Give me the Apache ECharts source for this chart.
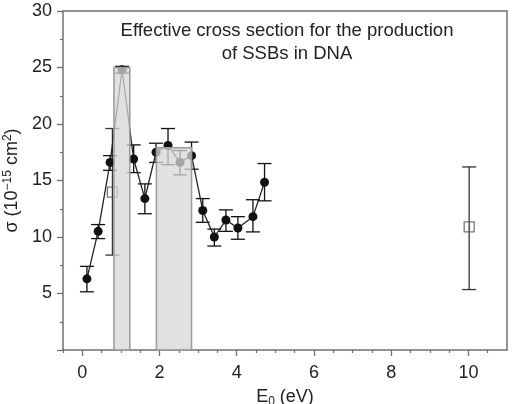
<!DOCTYPE html>
<html><head><meta charset="utf-8">
<script src="https://cdn.jsdelivr.net/npm/echarts@6/dist/echarts.min.js"></script>
<style>html,body{margin:0;padding:0;background:#fff}#c{width:513px;height:404px}</style>
</head><body><div id="c"></div>
<script>
// Black points (connected by a line)
const energies = [0.12, 0.41, 0.72, 1.03, 1.33, 1.62, 1.91, 2.22, 2.53, 2.83, 3.12, 3.42, 3.72, 4.03, 4.42, 4.72];
const sigma    = [6.3, 10.5, 16.6, 24.8, 16.9, 13.4, 17.5, 18.1, 16.6, 17.2, 12.35, 10.0, 11.5, 10.8, 11.8, 14.85];
const errHigh  = [7.4, 11.1, 17.2, 25.1, 18.15, 14.7, 18.3, 19.6, 17.65, 18.4, 13.4, 10.7, 12.4, 11.8, 13.3, 16.5];
const errLow   = [5.15, 9.86, 15.9, 24.5, 15.7, 12.06, 16.6, 16.4, 15.5, 16.0, 11.3, 9.2, 10.5, 9.8, 10.45, 13.2];
// Open squares
const sqEnergies = [0.78, 10.02];
const sqSigma    = [13.97, 10.9];
const sqHigh     = [19.6, 16.2];
const sqLow      = [8.4, 5.35];
// Shaded bars: [start, end, height]
const barStart  = [0.82, 1.92];
const barEnd    = [1.23, 2.83];
const barHeight = [25.0, 17.9];
// Axis ticks
const xMajorTicks = [0, 2, 4, 6, 8, 10];
const xMinorTicks = [-0.5, 0.5, 1, 1.5, 2.5, 3, 3.5, 4.5, 5, 5.5, 6.5, 7, 7.5, 8.5, 9, 9.5, 10.5];
const yTicks = [0, 5, 10, 15, 20, 25, 30];

const FONT = 'Liberation Sans, Arial, sans-serif';
const AX = '#707070';

function errRender(color) {
  return function (params, api) {
    const x = api.value(0), lo = api.value(1), hi = api.value(2);
    const a = api.coord([x, lo]), b = api.coord([x, hi]);
    const w = 7;
    const st = { stroke: color, lineWidth: 1.3 };
    return { type: 'group', children: [
      { type: 'line', shape: { x1: a[0], y1: a[1], x2: b[0], y2: b[1] }, style: st },
      { type: 'line', shape: { x1: a[0] - w, y1: a[1], x2: a[0] + w, y2: a[1] }, style: st },
      { type: 'line', shape: { x1: b[0] - w, y1: b[1], x2: b[0] + w, y2: b[1] }, style: st }
    ]};
  };
}

const chart = echarts.init(document.getElementById('c'), null, { renderer: 'canvas' });
chart.setOption({
  animation: false,
  backgroundColor: '#fff',
  grid: { left: 63, right: 6, top: 11, bottom: 54, containLabel: false, outerBoundsMode: 'none' },
  graphic: [
    { type: 'text', x: 287, y: 31, style: { text: 'Effective cross section for the production', textAlign: 'center', textVerticalAlign: 'middle', font: '18.5px ' + FONT, fill: '#222' } },
    { type: 'text', x: 287, y: 54, style: { text: 'of SSBs in DNA', textAlign: 'center', textVerticalAlign: 'middle', font: '18.5px ' + FONT, fill: '#222' } }
  ],
  xAxis: [
    { type: 'value', min: -0.5, max: 11, position: 'bottom',
      axisLine: { show: true, onZero: false, lineStyle: { color: AX, width: 1.5 } },
      axisTick: { show: true, inside: false, length: 6, customValues: xMajorTicks, lineStyle: { color: AX, width: 1.3 } },
      axisLabel: { customValues: xMajorTicks, margin: 14, fontSize: 18, color: '#222', fontFamily: FONT },
      splitLine: { show: false },
      name: 'E{sub|0} (eV)', nameLocation: 'middle', nameGap: 36,
      nameTextStyle: { fontSize: 18, color: '#222', fontFamily: FONT, rich: { sub: { fontSize: 12, verticalAlign: 'bottom', padding: [10, 0, 0, 0], fontFamily: FONT, color: '#222' } } } },
    { type: 'value', min: -0.5, max: 11, position: 'bottom',
      axisLine: { show: false, onZero: false },
      axisTick: { show: true, length: 3, customValues: xMinorTicks, lineStyle: { color: AX, width: 1.2 } },
      axisLabel: { show: false }, splitLine: { show: false } },
    { type: 'value', min: -0.5, max: 11, position: 'top',
      axisLine: { show: true, onZero: false, lineStyle: { color: AX, width: 1.5 } },
      axisTick: { show: false }, axisLabel: { show: false }, splitLine: { show: false } }
  ],
  yAxis: [
    { type: 'value', min: 0, max: 30, interval: 5, position: 'left',
      axisLine: { show: true, onZero: false, lineStyle: { color: AX, width: 1.5 } },
      axisTick: { show: true, length: 6, lineStyle: { color: AX, width: 1.3 } },
      minorTick: { show: true, splitNumber: 2, length: 3, lineStyle: { color: AX, width: 1.2 } },
      axisLabel: { margin: 11, fontSize: 18, color: '#222', fontFamily: FONT, formatter: v => v === 0 ? '' : String(v) },
      splitLine: { show: false },
      name: 'σ (10{sup|−15} cm{sup|2})', nameLocation: 'middle', nameGap: 35, nameRotate: 90,
      nameTextStyle: { fontSize: 18, color: '#222', fontFamily: FONT, rich: { sup: { fontSize: 12, verticalAlign: 'top', padding: [0, 0, 8, 0], fontFamily: FONT, color: '#222' } } } },
    { type: 'value', min: 0, max: 30, position: 'right',
      axisLine: { show: true, onZero: false, lineStyle: { color: AX, width: 1.5 } },
      axisTick: { show: false }, axisLabel: { show: false }, splitLine: { show: false } }
  ],
  series: [
    { type: 'custom', name: 'err', renderItem: errRender('#111'), z: 2,
      data: energies.map((x, i) => [x, errLow[i], errHigh[i]]) },
    { type: 'custom', name: 'sqerr', renderItem: errRender('#333'), z: 2,
      data: sqEnergies.map((x, i) => [x, sqLow[i], sqHigh[i]]) },
    { type: 'line', name: 'sigma', z: 3, data: energies.map((x, i) => [x, sigma[i]]),
      symbol: 'circle', symbolSize: 9, showSymbol: true,
      lineStyle: { color: '#222', width: 1.3 }, itemStyle: { color: '#111' } },
    { type: 'scatter', name: 'squares', z: 3, data: sqEnergies.map((x, i) => [x, sqSigma[i]]),
      symbol: 'rect', symbolSize: 10,
      itemStyle: { color: 'rgba(255,255,255,0)', borderColor: '#555', borderWidth: 1.3 } },
    { type: 'custom', name: 'bars', z: 5,
      renderItem: function (params, api) {
        const p0 = api.coord([api.value(0), api.value(2)]);
        const p1 = api.coord([api.value(1), 0]);
        return { type: 'rect', shape: { x: p0[0], y: p0[1], width: p1[0] - p0[0], height: p1[1] - p0[1] },
          style: { fill: 'rgba(215,215,215,0.75)', stroke: '#999', lineWidth: 1.5 } };
      },
      data: barStart.map((s, i) => [s, barEnd[i], barHeight[i]]) }
  ]
});
</script></body></html>
